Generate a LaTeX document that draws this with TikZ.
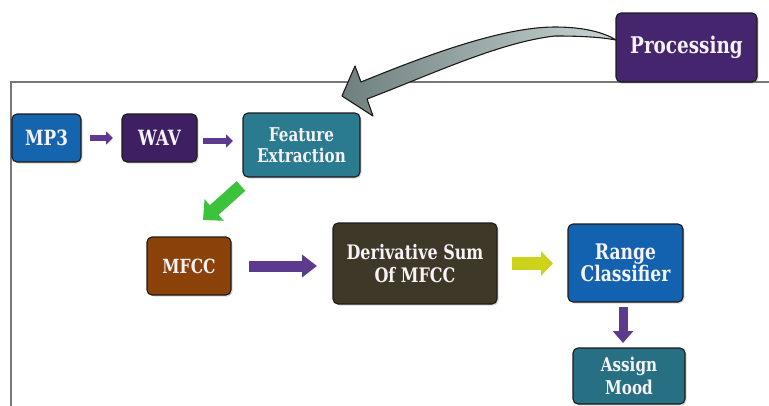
\documentclass[tikz,border=0pt]{standalone}
\usepackage{fontspec}
\setmainfont{DejaVu Serif}[FakeStretch=0.8]
\usetikzlibrary{arrows.meta,shadows,calc}
\definecolor{framegray}{HTML}{777777}
\definecolor{boxline}{HTML}{1E1A1A}
\definecolor{txt}{HTML}{F6F2F6}
\definecolor{arrpurple}{HTML}{5C3B8E}
\definecolor{arrgreen}{HTML}{3CC23C}
\definecolor{arryellow}{HTML}{CDD21A}
\definecolor{arrgreyL}{HTML}{6F7F7F}
\definecolor{arrgreyR}{HTML}{C7D6D2}
\definecolor{procE}{HTML}{45256D}\definecolor{procM}{HTML}{6B3AA0}
\definecolor{mpE}{HTML}{1464AE}\definecolor{mpM}{HTML}{2A85D0}
\definecolor{wavE}{HTML}{3E1F62}\definecolor{wavM}{HTML}{5A2F88}
\definecolor{feE}{HTML}{2A7B8F}\definecolor{feM}{HTML}{3A94A8}
\definecolor{mfE}{HTML}{8A4208}\definecolor{mfM}{HTML}{A75A14}
\definecolor{deE}{HTML}{3E3828}\definecolor{deM}{HTML}{575038}
\definecolor{rgE}{HTML}{1262B0}\definecolor{rgM}{HTML}{1F7ED0}
\definecolor{moE}{HTML}{276F82}\definecolor{moM}{HTML}{3A8EA3}
\tikzset{
  box/.style={rounded corners=5pt, draw=boxline, line width=1.1pt, inner sep=0pt, outer sep=0pt,
    align=center, text=txt, font=\bfseries\fontsize{20}{23}\selectfont,
    drop shadow={shadow xshift=1.5pt, shadow yshift=-1.5pt, opacity=0.3}},
  tri/.style 2 args={left color=#1, middle color=#2, right color=#1},
  blockarrow/.style n args={3}{draw=#1, line width=#2, -{Triangle[#3]}},
}
\begin{document}
\begin{tikzpicture}[x=1pt,y=-1pt]
\useasboundingbox (0,0) rectangle (769,405);
% frame
\draw[framegray, line width=2pt] (769,82) -- (11,82) -- (11,406);
% nodes
\node[box, tri={procE}{procM}, minimum width=141pt, minimum height=69pt,
  font=\bfseries\fontsize{23}{24}\selectfont] (proc) at (686.5,47.5) {Processing};
\node[box, tri={mpE}{mpM}, minimum width=69pt, minimum height=48pt,
  font=\bfseries\fontsize{21}{23}\selectfont] (mp3) at (46.5,138) {MP3};
\node[box, tri={wavE}{wavM}, minimum width=75pt, minimum height=48pt,
  font=\bfseries\fontsize{21}{23}\selectfont] (wav) at (159.5,138) {WAV};
\node[box, tri={feE}{feM}, minimum width=117pt, minimum height=64pt,
  font=\bfseries\fontsize{19}{21}\selectfont] (fe) at (301.5,145) {Feature\\Extraction};
\node[box, tri={mfE}{mfM}, minimum width=84pt, minimum height=58pt,
  font=\bfseries\fontsize{19.5}{21}\selectfont] (mfcc) at (189,266) {MFCC};
\node[box, tri={deE}{deM}, minimum width=164pt, minimum height=81pt] (der) at (415,263.5) {Derivative Sum\\Of MFCC};
\node[box, tri={rgE}{rgM}, minimum width=115pt, minimum height=78pt,
  font=\bfseries\fontsize{21.5}{22}\selectfont] (rng) at (625.5,263) {Range\\Classifier};
\node[box, tri={moE}{moM}, minimum width=112pt, minimum height=56pt,
  font=\bfseries\fontsize{19}{23}\selectfont] (mood) at (629,376) {Assign\\Mood};
% curved grey arrow from Processing
\coordinate (ctip) at (342,96);
\coordinate (cend) at (616,40);
\filldraw[draw=boxline, line width=1.1pt, left color=arrgreyL, right color=arrgreyR, line join=round]
  (ctip) -- (355,66) -- (361,82)
  .. controls (420,58) and (500,27) .. (555,27)
  .. controls (585,27) and (605,33) .. (cend)
  .. controls (600,37) and (580,36) .. (555,36)
  .. controls (500,42) and (430,75) .. (367,99)
  -- (373,116) -- cycle;
% small arrows
\draw[blockarrow={arrpurple}{6.5pt}{length=7pt,width=13pt}, shorten <=9pt, shorten >=9pt]
  (mp3.east) -- (wav.west);
\draw[blockarrow={arrpurple}{6.5pt}{length=7pt,width=13pt}, shorten <=6pt, shorten >=10pt]
  ($(wav.east)+(0,3)$) -- ($(wav.east -| fe.west)+(0,3)$);
\draw[blockarrow={arrgreen}{13pt}{length=15pt,width=28pt}]
  ($(fe.south west)+(-2,9)$) -- ($(fe.south west)+(-40,43)$);
\draw[blockarrow={arrpurple}{11pt}{length=15pt,width=22pt}, shorten <=18pt, shorten >=16pt]
  (mfcc.east) -- (mfcc.east -| der.west);
\draw[blockarrow={arryellow}{13pt}{length=12pt,width=24pt}, shorten <=15pt, shorten >=15pt]
  (der.east) -- (der.east -| rng.west);
\draw[blockarrow={arrpurple}{9pt}{length=12pt,width=20pt}, shorten <=5pt, shorten >=5pt]
  ($(rng.south)+(-2.5,0)$) -- ($(rng.south |- mood.north)+(-2.5,0)$);
\end{tikzpicture}
\end{document}
